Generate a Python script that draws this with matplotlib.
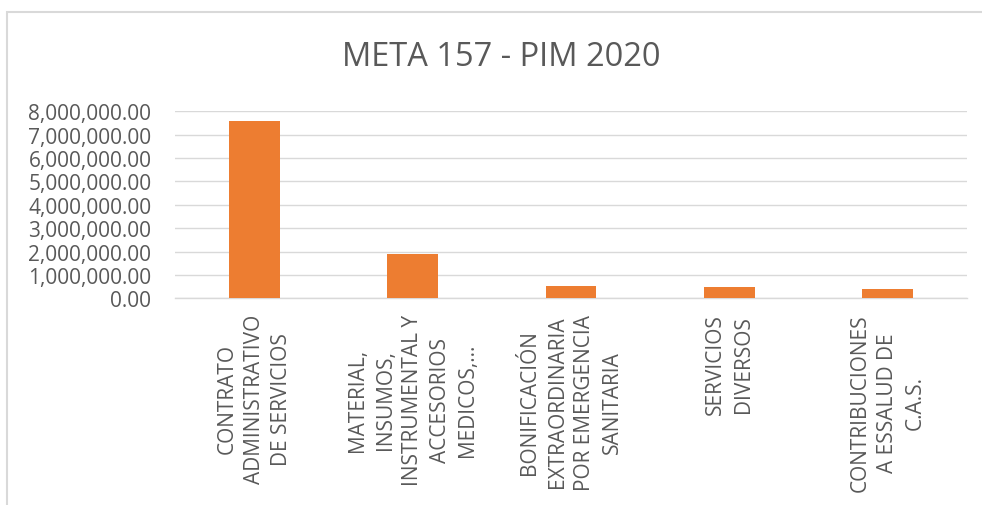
import matplotlib
matplotlib.use("Agg")
import matplotlib.pyplot as plt
import matplotlib.patches as patches
from matplotlib.ticker import FuncFormatter

plt.rcParams['font.family'] = ['Open Sans', 'DejaVu Sans']

# datos
categorias = [
    "CONTRATO\nADMINISTRATIVO\nDE SERVICIOS",
    "MATERIAL,\nINSUMOS,\nINSTRUMENTAL Y\nACCESORIOS\nMEDICOS,...",
    "BONIFICACIÓN\nEXTRAORDINARIA\nPOR EMERGENCIA\nSANITARIA",
    "SERVICIOS\nDIVERSOS",
    "CONTRIBUCIONES\nA ESSALUD DE\nC.A.S.",
]
pim = [7570000, 1880000, 510000, 470000, 380000]
y_ticks = [0, 1000000, 2000000, 3000000, 4000000, 5000000, 6000000, 7000000, 8000000]

C_BAR = "#ED7D31"
C_TXT = "#595959"
C_GRID = "#D9D9D9"

W, H = 982, 506
fig = plt.figure(figsize=(W / 100, H / 100), dpi=100)

# borde del area del grafico (estilo Excel)
fig.patches.append(patches.Rectangle((7 / W, -0.1), 1.2, 1 - 13 / H + 0.1,
                                     transform=fig.transFigure, fill=False,
                                     ec=C_GRID, lw=1.5))

ax = fig.add_axes([175 / W, 1 - 299.3 / H, (967 - 175) / W, (299.3 - 112.3) / H])
x = range(len(categorias))
ax.bar(x, pim, width=0.32, color=C_BAR, zorder=3)

ax.set_xlim(-0.5, len(categorias) - 0.5)
ax.set_ylim(0, 8000000)
ax.set_yticks(y_ticks)
ax.yaxis.set_major_formatter(FuncFormatter(lambda v, p: f"{v:,.2f}"))
ax.grid(axis='y', color=C_GRID, lw=1, zorder=0)

for s in ['top', 'right', 'left']:
    ax.spines[s].set_visible(False)
ax.spines['bottom'].set_color(C_GRID)
ax.spines['bottom'].set_linewidth(1)

ax.tick_params(axis='y', length=0, pad=17, labelsize=15, labelcolor=C_TXT)
ax.tick_params(axis='x', length=0, pad=11, labelsize=15, labelcolor=C_TXT)
ax.set_xticks(list(x))
ax.set_xticklabels(categorias, rotation=90, ha='center', va='top',
                   multialignment='center', linespacing=1.4)

fig.text(501 / W, 1 - 57 / H, "META 157 - PIM 2020", ha='center', va='center',
         fontsize=23.5, color=C_TXT)

fig.savefig("out.png", dpi=100)
